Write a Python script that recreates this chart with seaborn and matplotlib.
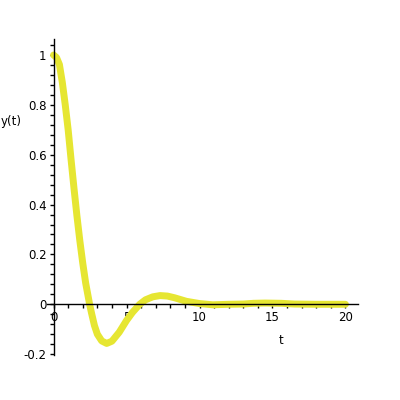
import matplotlib
matplotlib.use('Agg')
import matplotlib.pyplot as plt
import seaborn as sns
from matplotlib.ticker import MultipleLocator

# values
t_vals = [0, 0.2, 0.4, 0.6, 0.8, 1.0, 1.2, 1.4, 1.6, 1.8, 2.0, 2.2, 2.47, 2.6, 2.8,
          3.0, 3.3, 3.64, 4.0, 4.5, 5.0, 5.4, 5.9, 6.3, 6.8, 7.3, 7.8,
          8.3, 9.1, 10.0, 10.9, 12.0, 13.0, 13.7, 14.5, 15.6, 16.5, 18.0, 20.0]
y_vals = [1.0, 0.99, 0.962, 0.89, 0.80, 0.70, 0.58, 0.465, 0.355, 0.255, 0.165, 0.085,
          0.0, -0.035, -0.085, -0.12, -0.147, -0.157, -0.148, -0.112, -0.065, -0.033,
          0.0, 0.018, 0.03, 0.035, 0.033, 0.026, 0.012, 0.003, -0.002,
          0.0, 0.001, 0.004, 0.005, 0.004, 0.001, 0.0, 0.0]

x_ticks = [0, 5, 10, 15, 20]
y_ticks = [-0.2, 0, 0.2, 0.4, 0.6, 0.8, 1]
y_ticklabels = ['-0.2', '0', '0.2', '0.4', '0.6', '0.8', '1']

sns.set_style('white')
plt.rcParams['font.family'] = ['DejaVu Sans']

fig = plt.figure(figsize=(4, 4), dpi=100)
ax = fig.add_axes([47 / 400, 1 - 355.4 / 400, 311 / 400, 316.6 / 400])

sns.lineplot(x=t_vals, y=y_vals, ax=ax, color='#e6e632', lw=5, sort=False)

ax.set_xlim(-0.45, 20.86)
ax.set_ylim(-0.205, 1.065)

# axes cross at the origin, Maple style
ax.spines['left'].set_position(('data', 0))
ax.spines['bottom'].set_position(('data', 0))
ax.spines['top'].set_visible(False)
ax.spines['right'].set_visible(False)
for s in ['left', 'bottom']:
    ax.spines[s].set_color('black')
    ax.spines[s].set_linewidth(1)

ax.set_xticks(x_ticks)
ax.set_xticklabels([str(v) for v in x_ticks])
ax.set_yticks(y_ticks)
ax.set_yticklabels(y_ticklabels)
ax.xaxis.set_minor_locator(MultipleLocator(1))
ax.yaxis.set_minor_locator(MultipleLocator(0.04))
ax.tick_params(which='both', direction='out', length=3, width=1, color='black',
               labelcolor='black', labelsize=8.5, pad=2)
ax.tick_params(axis='both', which='both', bottom=True, left=True)
ax.set_xlabel('')
ax.set_ylabel('')

fig.text(1 / 400, 1 - 122 / 400, 'y(t)', ha='left', va='center', fontsize=8.5, color='black')
fig.text(281 / 400, 1 - 340 / 400, 't', ha='center', va='center', fontsize=8.5, color='black')

fig.savefig('out.png', dpi=100)
